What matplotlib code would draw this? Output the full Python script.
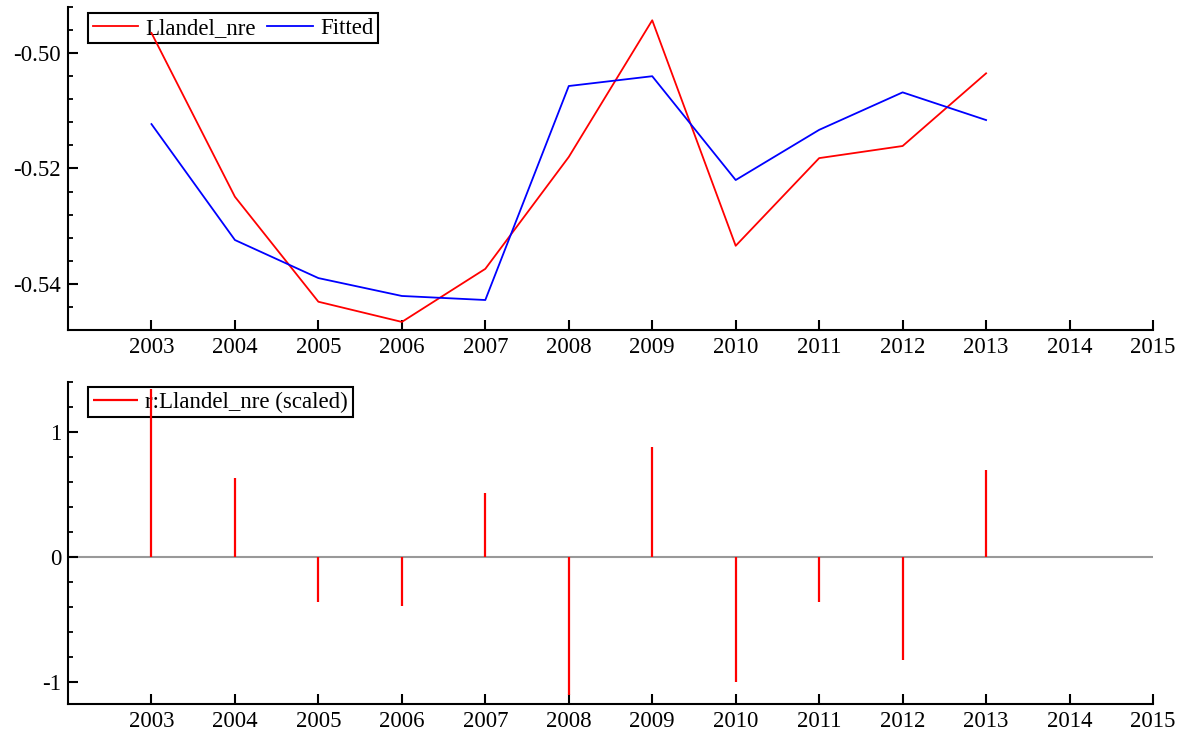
import matplotlib
matplotlib.use("Agg")
import matplotlib.pyplot as plt
from matplotlib.ticker import MultipleLocator, FormatStrFormatter, FixedLocator

plt.rcParams['font.family'] = ['Liberation Serif', 'DejaVu Serif']
plt.rcParams['axes.unicode_minus'] = False

years = [2003, 2004, 2005, 2006, 2007, 2008, 2009, 2010, 2011, 2012, 2013]
actual = [-0.4965, -0.5249, -0.5431, -0.5466, -0.5374, -0.5180, -0.4943,
          -0.5334, -0.5182, -0.5161, -0.5035]
fitted = [-0.5123, -0.5324, -0.5390, -0.5421, -0.5428, -0.5057, -0.5040,
          -0.5220, -0.5133, -0.5068, -0.5116]
resid = [1.344, 0.635, -0.36, -0.39, 0.51, -1.10, 0.878, -1.0, -0.36, -0.82, 0.70]
xticks = list(range(2003, 2016))

W, H = 1189, 736
fig = plt.figure(figsize=(W / 100, H / 100), dpi=100)

def px_axes(l, t, r, b):
    return fig.add_axes([l / W, 1 - b / H, (r - l) / W, (b - t) / H])

def style(ax):
    for s in ('top', 'right'):
        ax.spines[s].set_visible(False)
    for s in ('left', 'bottom'):
        ax.spines[s].set_linewidth(1.5)
    ax.set_xlim(2002, 2015)
    ax.xaxis.set_major_locator(FixedLocator(xticks))
    ax.tick_params(axis='both', which='major', direction='in', length=7,
                   width=1.5, labelsize=16.5, pad=5)
    ax.tick_params(axis='both', which='minor', direction='in', length=3.5,
                   width=1.3)
    ax.tick_params(axis='x', which='minor', bottom=False)

ax1 = px_axes(68, 7, 1153, 330)
style(ax1)
ax1.plot(years, actual, color='#ff0000', lw=1.3, label='Llandel_nre', zorder=3)
ax1.plot(years, fitted, color='#0000ff', lw=1.3, label='Fitted', zorder=3)
ax1.set_ylim(-0.548, -0.492)
ax1.yaxis.set_major_locator(MultipleLocator(0.02))
ax1.yaxis.set_minor_locator(MultipleLocator(0.004))
ax1.yaxis.set_major_formatter(FormatStrFormatter('%.2f'))
leg1 = ax1.legend(loc='upper left', bbox_to_anchor=(0.0184, 0.981),
                  borderaxespad=0, ncol=2, fontsize=16.5, frameon=True,
                  fancybox=False, edgecolor='black', handlelength=2.0,
                  handletextpad=0.3, columnspacing=0.5, borderpad=0.2,
                  framealpha=1)
leg1.get_frame().set_linewidth(1.5)
leg1.set_zorder(2)

ax2 = px_axes(68, 382, 1153, 704)
style(ax2)
ax2.axhline(0, color='#999999', lw=1.5, zorder=1)
ax2.vlines(years, 0, resid, color='#ff0000', lw=1.6, label='r:Llandel_nre (scaled)',
           zorder=3)
ax2.set_ylim(-1.176, 1.40)
ax2.yaxis.set_major_locator(MultipleLocator(1))
ax2.yaxis.set_minor_locator(MultipleLocator(0.2))
ax2.yaxis.set_major_formatter(FormatStrFormatter('%d'))
leg2 = ax2.legend(loc='upper left', bbox_to_anchor=(0.0184, 0.984),
                  borderaxespad=0, fontsize=16.5, frameon=True,
                  fancybox=False, edgecolor='black', handlelength=2.0,
                  handletextpad=0.3, borderpad=0.2, framealpha=1)
leg2.get_frame().set_linewidth(1.5)
leg2.set_zorder(2)

fig.savefig('out.png', dpi=100)
